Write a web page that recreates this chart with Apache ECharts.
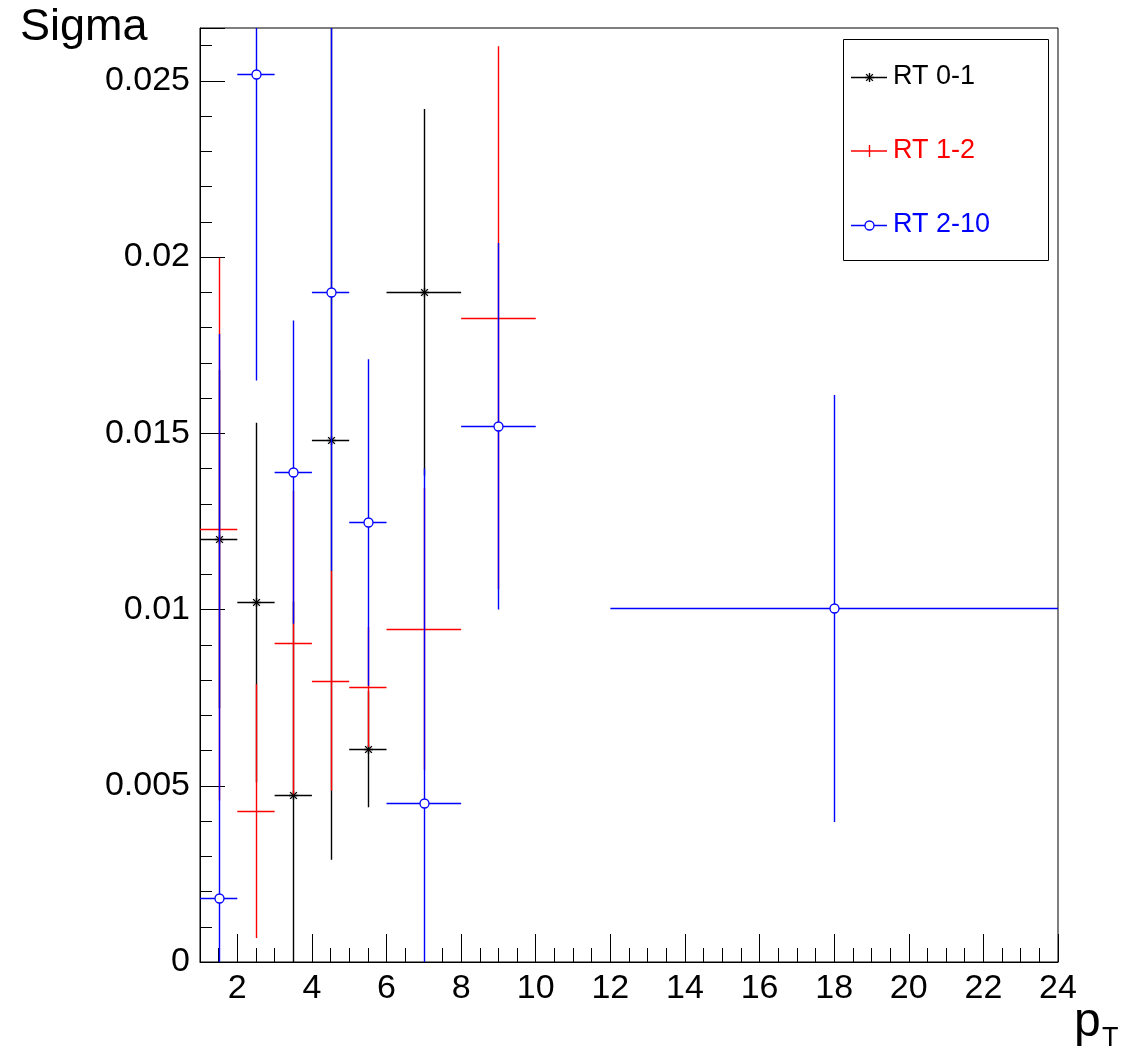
<!DOCTYPE html>
<html>
<head>
<meta charset="utf-8">
<title>Sigma vs pT</title>
<script src="https://cdn.jsdelivr.net/npm/echarts@6/dist/echarts.min.js"></script>
<style>
  html, body { margin: 0; padding: 0; background: #fff; }
  #chart { width: 1141px; height: 1049px; }
</style>
</head>
<body>
<div id="chart"></div>
<script>
// pT bins: centres and half widths
const binCenters = [1.5, 2.5, 3.5, 4.5, 5.5, 7, 9, 18];
const binHalfWidths = [0.5, 0.5, 0.5, 0.5, 0.5, 1, 1, 6];

// RT classes
const seriesNames = ['RT 0-1', 'RT 1-2', 'RT 2-10'];

// Sigma and its uncertainty per bin
const sigmaRT01 = [0.0120, 0.0102, 0.00473, 0.0148, 0.00604, 0.0190];
const errRT01   = [0.0048, 0.0051, 0.0055, 0.0119, 0.00165, 0.0052];

const sigmaRT12 = [0.01228, 0.00428, 0.00906, 0.00798, 0.0078, 0.00945, 0.01828];
const errRT12   = [0.0077, 0.0036, 0.0043, 0.00312, 0.0017, 0.0040, 0.0077];

const sigmaRT210 = [0.00182, 0.0252, 0.0139, 0.0190, 0.01247, 0.0045, 0.0152, 0.01003];
const errRT210   = [0.0160, 0.0087, 0.0043, 0.0079, 0.00463, 0.0095, 0.0052, 0.00606];

// axis ticks
const xTickValues = [2, 4, 6, 8, 10, 12, 14, 16, 18, 20, 22, 24];
const yTickInterval = 0.005;

const FONT = '"Liberation Sans", Arial, Helvetica, sans-serif';
const colors = ['#000000', '#ff0000', '#0000ff'];
const markers = ['star', 'plus', 'circle'];
const LW = 1.4;

function rows(values, errors) {
  return values.map((v, i) => [binCenters[i], v, binHalfWidths[i], errors[i]]);
}

function crisp(v) { return Math.round(v) + 0.5; }

function segment(x1, y1, x2, y2, color, z2) {
  return {
    type: 'line',
    z2: z2 || 0,
    shape: { x1: x1, y1: y1, x2: x2, y2: y2 },
    style: { stroke: color, lineWidth: LW }
  };
}

function markerShapes(kind, cx, cy, color) {
  const s = 4.5, d = s * 0.75;
  if (kind === 'star') {
    return [
      segment(cx - s, cy, cx + s, cy, color, 2),
      segment(cx, cy - s, cx, cy + s, color, 2),
      segment(cx - d, cy - d, cx + d, cy + d, color, 2),
      segment(cx - d, cy + d, cx + d, cy - d, color, 2)
    ];
  }
  if (kind === 'circle') {
    return [{
      type: 'circle',
      z2: 2,
      shape: { cx: cx, cy: cy, r: 4.5 },
      style: { fill: '#fff', stroke: color, lineWidth: 1.3 }
    }];
  }
  return [];
}

// horizontal bar = bin width, vertical bar = uncertainty, clipped to the frame
function errorBarRenderer(kind, color) {
  return function (params, api) {
    const cs = params.coordSys;
    const x = api.value(0), y = api.value(1), ex = api.value(2), ey = api.value(3);
    const c = api.coord([x, y]);
    const left = api.coord([x - ex, y])[0];
    const right = api.coord([x + ex, y])[0];
    const top = api.coord([x, y + ey])[1];
    const bottom = api.coord([x, y - ey])[1];
    const cx = crisp(c[0]), cy = crisp(c[1]);
    const x1 = Math.max(left, cs.x), x2 = Math.min(right, cs.x + cs.width);
    const y1 = Math.max(top, cs.y), y2 = Math.min(bottom, cs.y + cs.height);
    const children = [
      segment(x1, cy, x2, cy, color, 1),
      segment(cx, y1, cx, y2, color, 1)
    ].concat(markerShapes(kind, cx, cy, color));
    return { type: 'group', children: children };
  };
}

const datasets = [rows(sigmaRT01, errRT01), rows(sigmaRT12, errRT12), rows(sigmaRT210, errRT210)];

const series = datasets.map((d, i) => ({
  name: seriesNames[i],
  type: 'custom',
  xAxisIndex: 0,
  yAxisIndex: 0,
  encode: { x: 0, y: 1 },
  data: d,
  z: 3 + i,
  itemStyle: { color: colors[i] },
  renderItem: errorBarRenderer(markers[i], colors[i])
}));

// legend box drawn with graphic elements
const legendX = 843, legendY = 39, legendW = 205, legendH = 221;
const legendRows = [77, 150.5, 225];
const legendGraphics = [{
  type: 'rect',
  shape: { x: legendX + 0.5, y: legendY + 0.5, width: legendW, height: legendH },
  style: { fill: '#fff', stroke: '#000', lineWidth: 1 },
  z: 10
}];
seriesNames.forEach((name, i) => {
  const cy = legendRows[i] + 0.5;
  const cx = 869.5;
  const parts = [segment(851, cy, 887, cy, colors[i])];
  if (markers[i] === 'plus') {
    parts.push(segment(cx, cy - 6, cx, cy + 6, colors[i]));
  } else {
    markerShapes(markers[i], cx, cy, colors[i]).forEach(el => parts.push(el));
  }
  parts.forEach(el => { el.z = 11; legendGraphics.push(el); });
  legendGraphics.push({
    type: 'text', x: 893, y: legendRows[i],
    style: { text: name, fill: colors[i], font: '27px ' + FONT, verticalAlign: 'middle', align: 'left' },
    z: 11
  });
});

const titleGraphics = [
  { type: 'text', x: 20, y: 28, style: { text: 'Sigma', fill: '#000', font: '45px ' + FONT, verticalAlign: 'middle' }, z: 12 },
  { type: 'text', x: 1074, y: 1023, style: { text: 'p', fill: '#000', font: '48px ' + FONT, verticalAlign: 'middle' }, z: 12 },
  { type: 'text', x: 1102, y: 1039, style: { text: 'T', fill: '#000', font: '27px ' + FONT, verticalAlign: 'middle' }, z: 12 }
];

const chart = echarts.init(document.getElementById('chart'), null, { renderer: 'canvas' });
chart.setOption({
  backgroundColor: '#fff',
  animation: false,
  grid: {
    left: 200, right: 83, top: 28, bottom: 87,
    show: true, borderColor: '#000', borderWidth: 1, backgroundColor: 'transparent'
  },
  xAxis: [
    {
      type: 'value', min: 1, max: 24, position: 'bottom',
      axisLine: { show: true, onZero: false, lineStyle: { color: '#000', width: 1 } },
      axisTick: { show: true, inside: true, length: 28, customValues: xTickValues, lineStyle: { color: '#000', width: 1 } },
      axisLabel: { show: true, customValues: xTickValues, fontSize: 34, fontFamily: FONT, color: '#000', margin: 10 },
      splitLine: { show: false }
    },
    {
      type: 'value', min: 1, max: 24, interval: 0.5, position: 'bottom', offset: 0,
      axisLine: { show: false },
      axisTick: { show: true, inside: true, length: 14, lineStyle: { color: '#000', width: 1 } },
      axisLabel: { show: false },
      splitLine: { show: false }
    }
  ],
  yAxis: {
    type: 'value', min: 0, max: 0.0265, interval: yTickInterval,
    axisLine: { show: true, onZero: false, lineStyle: { color: '#000', width: 1 } },
    axisTick: { show: true, inside: true, length: 25, lineStyle: { color: '#000', width: 1 } },
    minorTick: { show: true, splitNumber: 5, length: 12, lineStyle: { color: '#000', width: 1 } },
    axisLabel: { fontSize: 34, fontFamily: FONT, color: '#000', margin: 10, showMaxLabel: false },
    splitLine: { show: false }
  },
  series: series,
  graphic: legendGraphics.concat(titleGraphics)
});
</script>
</body>
</html>
